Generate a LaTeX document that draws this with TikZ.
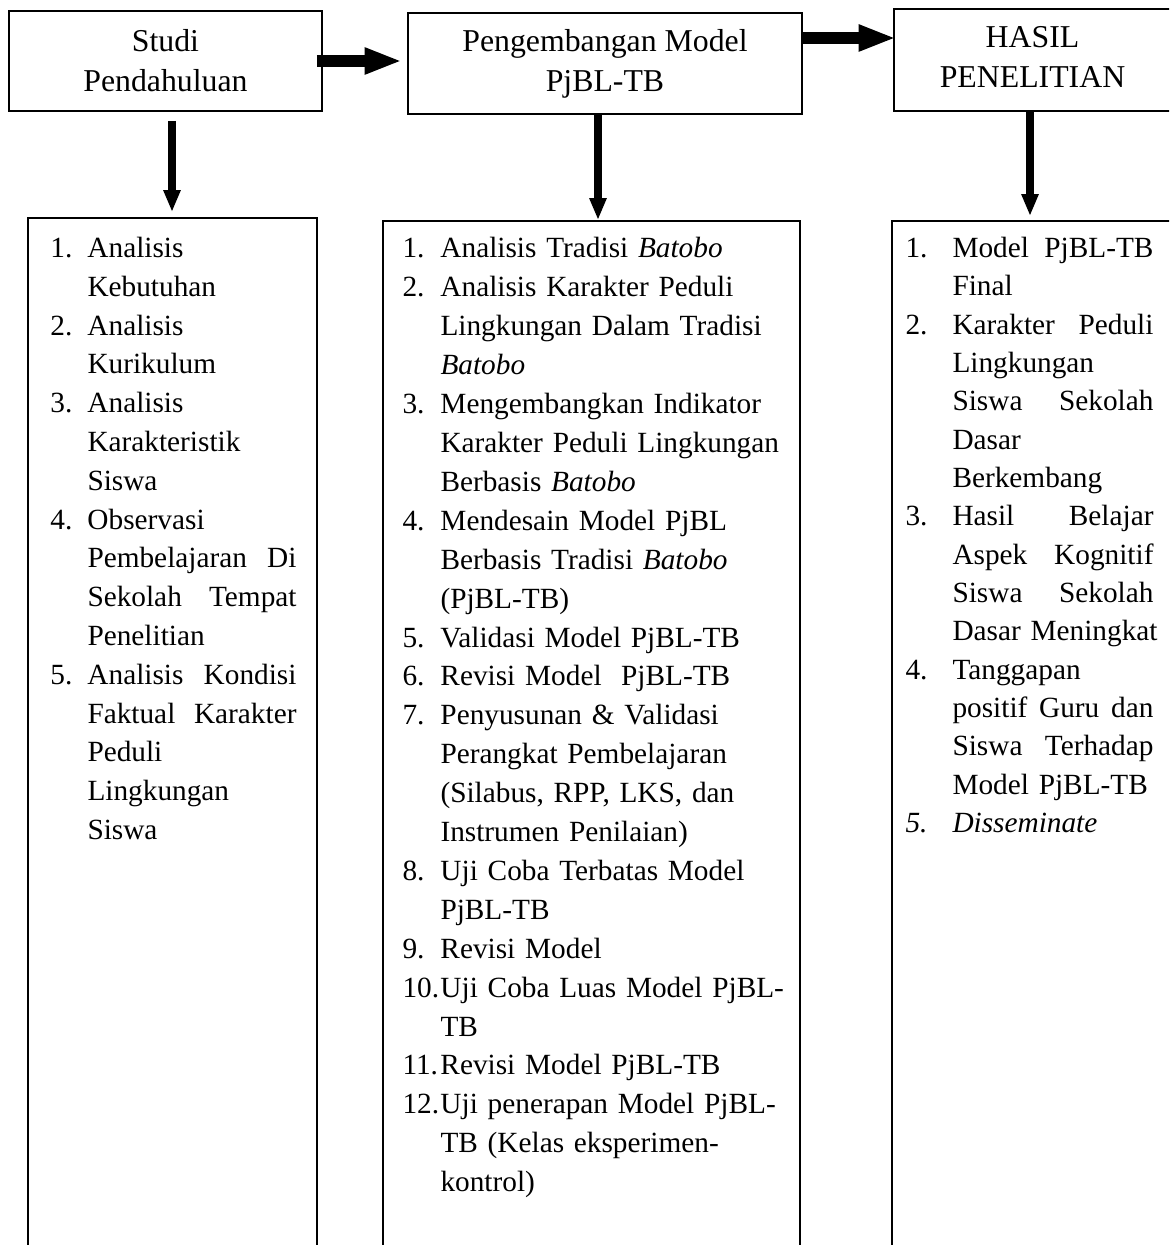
\documentclass[tikz,border=0pt]{standalone}
\usepackage{fontspec}
\setmainfont{Liberation Serif}
\usetikzlibrary{arrows.meta,calc}
\newlength\numL \setlength\numL{14.8pt}
\newlength\txtL \setlength\txtL{83.6pt}
\newlength\numM \setlength\numM{15.2pt}
\newlength\txtM \setlength\txtM{133.2pt}
\newlength\numR \setlength\numR{18.8pt}
\newlength\txtR \setlength\txtR{80.4pt}
\newcommand\NumLn[3]{\makebox[#1][l]{#2}#3}
\newcommand\ContLn[2]{\hspace*{#1}#2}
\newcommand\Just[2]{\makebox[#1][s]{\spaceskip=0.25em plus 1fil\relax #2}}
\begin{document}
\begin{tikzpicture}[x=0.4pt,y=-0.4pt,
  boxnode/.style={draw,line width=0.75pt,inner sep=0pt,rectangle},
  toptext/.style={align=center,font=\fontsize{12.72pt}{16pt}\selectfont},
  listtext/.style={anchor=base west,align=left,inner sep=0pt},
  harrow/.style={line width=5pt,-{Triangle[length=15pt,width=9.8pt]}},
  varrow/.style={line width=3.3pt,-{Triangle[length=8.8pt,width=6.4pt]}}]
\useasboundingbox (0,0) rectangle (1169,1245);
\fill[white] (0,0) rectangle (1169,1245);
\clip (0,0) rectangle (1169,1245);

% top boxes
\node[boxnode,toptext,minimum width=125.2pt,minimum height=40pt] (A) at (165.5,61) {Studi\\Pendahuluan};
\node[boxnode,toptext,minimum width=157.6pt,minimum height=40.4pt] (B) at (605,63.5) {Pengembangan Model\\PjBL-TB\rule[-1.5pt]{0pt}{1.5pt}};
\node[boxnode,toptext,minimum width=110.8pt,minimum height=40.8pt] (C) at (1032.5,60) {HASIL\\PENELITIAN\rule[-2.2pt]{0pt}{2.2pt}};

% bottom boxes
\node[boxnode,minimum width=115.6pt,minimum height=420.8pt] (L) at (172.5,744) {};
\node[boxnode,minimum width=166.8pt,minimum height=419.6pt] (M) at (591.5,745.5) {};
\node[boxnode,minimum width=115.2pt,minimum height=419.6pt] (R) at (1036,745.5) {};

% lists
\node[listtext,text width=108.4pt,font=\fontsize{11.72pt}{15.52pt}\selectfont] (LT) at (50,257.5) {%
\NumLn{\numL}{1.}{Analisis}\\
\ContLn{\numL}{Kebutuhan}\\
\NumLn{\numL}{2.}{Analisis}\\
\ContLn{\numL}{Kurikulum}\\
\NumLn{\numL}{3.}{Analisis}\\
\ContLn{\numL}{Karakteristik}\\
\ContLn{\numL}{Siswa}\\
\NumLn{\numL}{4.}{Observasi}\\
\ContLn{\numL}{\Just{\txtL}{Pembelajaran Di}}\\
\ContLn{\numL}{\Just{\txtL}{Sekolah Tempat}}\\
\ContLn{\numL}{Penelitian}\\
\NumLn{\numL}{5.}{\Just{\txtL}{Analisis Kondisi}}\\
\ContLn{\numL}{\Just{\txtL}{Faktual Karakter}}\\
\ContLn{\numL}{Peduli}\\
\ContLn{\numL}{Lingkungan}\\
\ContLn{\numL}{Siswa}};

\node[listtext,text width=158.4pt,font=\fontsize{11.72pt}{15.56pt}\selectfont] (MT) at (402,258) {%
\NumLn{\numM}{1.}{Analisis Tradisi \textit{Batobo}}\\
\NumLn{\numM}{2.}{Analisis Karakter Peduli}\\
\ContLn{\numM}{Lingkungan Dalam Tradisi}\\
\ContLn{\numM}{\textit{Batobo}}\\
\NumLn{\numM}{3.}{Mengembangkan Indikator}\\
\ContLn{\numM}{Karakter Peduli Lingkungan}\\
\ContLn{\numM}{Berbasis \textit{Batobo}}\\
\NumLn{\numM}{4.}{Mendesain Model PjBL}\\
\ContLn{\numM}{Berbasis Tradisi \textit{Batobo}}\\
\ContLn{\numM}{(PjBL-TB)}\\
\NumLn{\numM}{5.}{Validasi Model PjBL-TB}\\
\NumLn{\numM}{6.}{Revisi Model\ \ PjBL-TB}\\
\NumLn{\numM}{7.}{Penyusunan \& Validasi}\\
\ContLn{\numM}{Perangkat Pembelajaran}\\
\ContLn{\numM}{(Silabus, RPP, LKS, dan}\\
\ContLn{\numM}{Instrumen Penilaian)}\\
\NumLn{\numM}{8.}{Uji Coba Terbatas Model}\\
\ContLn{\numM}{PjBL-TB}\\
\NumLn{\numM}{9.}{Revisi Model}\\
\NumLn{\numM}{10.}{Uji Coba Luas Model PjBL-}\\
\ContLn{\numM}{TB}\\
\NumLn{\numM}{11.}{Revisi Model PjBL-TB}\\
\NumLn{\numM}{12.}{Uji penerapan Model PjBL-}\\
\ContLn{\numM}{TB (Kelas eksperimen-}\\
\ContLn{\numM}{kontrol)}};

\node[listtext,text width=109.2pt,font=\fontsize{11.72pt}{15.33pt}\selectfont] (RT) at (905,257.5) {%
\NumLn{\numR}{1.}{\Just{\txtR}{Model PjBL-TB}}\\
\ContLn{\numR}{Final}\\
\NumLn{\numR}{2.}{\Just{\txtR}{Karakter Peduli}}\\
\ContLn{\numR}{Lingkungan}\\
\ContLn{\numR}{\Just{\txtR}{Siswa Sekolah}}\\
\ContLn{\numR}{Dasar}\\
\ContLn{\numR}{Berkembang}\\
\NumLn{\numR}{3.}{\Just{\txtR}{Hasil Belajar}}\\
\ContLn{\numR}{\Just{\txtR}{Aspek Kognitif}}\\
\ContLn{\numR}{\Just{\txtR}{Siswa Sekolah}}\\
\ContLn{\numR}{Dasar Meningkat}\\
\NumLn{\numR}{4.}{Tanggapan}\\
\ContLn{\numR}{\Just{\txtR}{positif Guru dan}}\\
\ContLn{\numR}{\Just{\txtR}{Siswa Terhadap}}\\
\ContLn{\numR}{Model PjBL-TB}\\
\NumLn{\numR}{\textit{5.}}{\textit{Disseminate}}};

% arrows
\draw[harrow] ([xshift=-2.4pt]A.east) -- ($(A.east -| B.west)+(-5,0)$);
\coordinate (bc) at ([yshift=10.2pt]B.east);
\draw[harrow] (bc) -- ($(bc -| C.west)+(3,0)$);
\draw[varrow] ($(A.south)+(6.5,9)$) -- ($(A.south |- L.north)+(6.5,-5)$);
\draw[varrow] ($(B.south)+(-7,0)$) -- ($(B.south |- M.north)+(-7,0)$);
\draw[varrow] ($(C.south)+(-2.5,0)$) -- ($(C.south |- R.north)+(-2.5,-4)$);
\end{tikzpicture}
\end{document}
